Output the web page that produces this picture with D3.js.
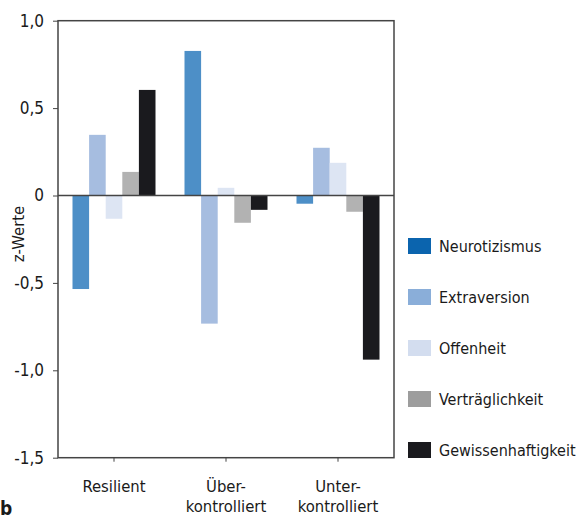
<!DOCTYPE html>
<html>
<head>
<meta charset="utf-8">
<script src="https://cdn.jsdelivr.net/npm/d3@7"></script>
<style>
  body { margin: 0; background: #fff; }
  text { font-family: "Liberation Sans Narrow", "DejaVu Sans Condensed", "Open Sans", sans-serif; fill: #1a1a1a; }
</style>
</head>
<body>
<div id="chart"></div>
<script>
// Groups on the x axis and the five trait series.
const groups = ["Resilient", "Über-\nkontrolliert", "Unter-\nkontrolliert"];
const traits = ["Neurotizismus", "Extraversion", "Offenheit", "Verträglichkeit", "Gewissenhaftigkeit"];
const neurotizismus = [-0.535, 0.827, -0.047];
const extraversion = [0.347, -0.733, 0.273];
const offenheit = [-0.133, 0.044, 0.187];
const vertraeglichkeit = [0.135, -0.156, -0.093];
const gewissenhaftigkeit = [0.604, -0.082, -0.939];
const yTicks = [1.0, 0.5, 0, -0.5, -1.0, -1.5];
const yTickLabels = ["1,0", "0,5", "0", "-0,5", "-1,0", "-1,5"];

const barColors = ["#4d8fc7", "#a6bde0", "#dde5f3", "#b2b2b2", "#1a1a1e"];
const legendColors = ["#0b64ae", "#8aaed9", "#d3ddef", "#9d9d9d", "#1a1a1e"];

const series = [neurotizismus, extraversion, offenheit, vertraeglichkeit, gewissenhaftigkeit];
const width = 580, height = 518;
const plot = { left: 58, right: 394, top: 20.7, bottom: 457.7 };

const svg = d3.select("#chart").append("svg")
  .attr("width", width)
  .attr("height", height);

// Scales: groups as bands, traits as sub-bands inside each group.
const x = d3.scaleBand().domain(groups).range([plot.left, plot.right]).paddingInner(0).paddingOuter(0);
const xInner = d3.scaleBand().domain(traits).range([0, 83]);
const y = d3.scaleLinear().domain([-1.5, 1.0]).range([plot.bottom, plot.top]);

// Bars
const cells = [];
groups.forEach((g, gi) => {
  traits.forEach((t, ti) => cells.push({ g, t, ti, v: series[ti][gi] }));
});
svg.append("g").selectAll("rect")
  .data(cells)
  .enter().append("rect")
  .attr("x", d => x(d.g) + x.bandwidth() / 2 - 41.5 + xInner(d.t))
  .attr("width", xInner.bandwidth())
  .attr("y", d => y(Math.max(0, d.v)))
  .attr("height", d => Math.abs(y(d.v) - y(0)))
  .attr("fill", d => barColors[d.ti]);

// Frame around the plot area
svg.append("rect")
  .attr("x", plot.left)
  .attr("y", plot.top)
  .attr("width", plot.right - plot.left)
  .attr("height", plot.bottom - plot.top)
  .attr("fill", "none")
  .attr("stroke", "#444")
  .attr("stroke-width", 1.5);

// Zero line
svg.append("line")
  .attr("x1", plot.left).attr("x2", plot.right)
  .attr("y1", y(0)).attr("y2", y(0))
  .attr("stroke", "#444")
  .attr("stroke-width", 1.5);

// Y axis
const yAxis = d3.axisLeft(y)
  .tickValues(yTicks)
  .tickSize(5)
  .tickPadding(9)
  .tickFormat((d, i) => yTickLabels[i]);
const yg = svg.append("g")
  .attr("transform", `translate(${plot.left},0)`)
  .call(yAxis);
yg.select(".domain").remove();
yg.selectAll(".tick line").attr("stroke", "#444");
yg.selectAll(".tick text")
  .attr("font-size", "17px")
  .attr("font-family", null)
  .attr("fill", "#1a1a1a");

// X axis ticks and two-line labels
const xAxis = d3.axisBottom(x).tickSize(4).tickFormat("");
const xg = svg.append("g")
  .attr("transform", `translate(0,${plot.bottom})`)
  .call(xAxis);
xg.select(".domain").remove();
xg.selectAll(".tick line").attr("stroke", "#444");

svg.append("g").selectAll("text")
  .data(groups)
  .enter().append("text")
  .attr("x", d => x(d) + x.bandwidth() / 2)
  .attr("y", 492)
  .attr("text-anchor", "middle")
  .attr("font-size", "16.5px")
  .each(function(d) {
    d.split("\n").forEach((line, i) => {
      d3.select(this).append("tspan")
        .attr("x", x(d) + x.bandwidth() / 2)
        .attr("dy", i === 0 ? 0 : 20)
        .text(line);
    });
  });

// Y axis title
svg.append("text")
  .attr("transform", `translate(24,234) rotate(-90)`)
  .attr("text-anchor", "middle")
  .attr("font-size", "16.5px")
  .text("z-Werte");

// Legend
const legend = svg.append("g").selectAll("g")
  .data(traits)
  .enter().append("g")
  .attr("transform", (d, i) => `translate(408,${238 + i * 51})`);
legend.append("rect")
  .attr("width", 23)
  .attr("height", 16)
  .attr("fill", (d, i) => legendColors[i]);
legend.append("text")
  .attr("x", 31)
  .attr("y", 14)
  .attr("font-size", "16px")
  .text(d => d);

// Panel letter
svg.append("text")
  .attr("x", 0)
  .attr("y", 515)
  .attr("font-size", "19px")
  .attr("font-weight", "bold")
  .text("b");
</script>
</body>
</html>
